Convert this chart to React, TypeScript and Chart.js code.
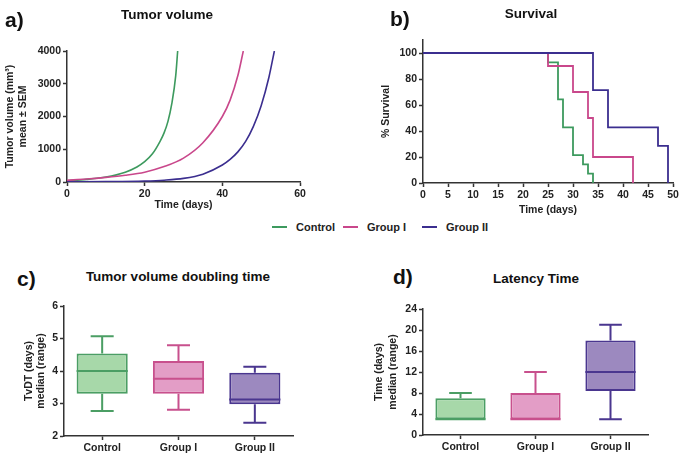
import React, { useEffect, useRef } from "react";
import { Chart, registerables } from "chart.js";
Chart.register(...registerables);

const FONT = 'Arial, "Liberation Sans", sans-serif';

const GROUPS = ["Control", "Group I", "Group II"];
const LINE_COLORS = ["#3d9a5e", "#c9478b", "#3b2e8f"];
const BOX_FILL = ["#a7d8a9", "#e39dc6", "#9c89bf"];
const BOX_BORDER = ["#4b9e64", "#c8508d", "#4a368f"];

// a) Tumor volume (days, mm3)
const volControlT = [0, 5, 10, 15, 18, 20, 22, 24, 25, 26, 27, 28, 28.5];
const volControlV = [40, 80, 150, 300, 460, 620, 860, 1250, 1500, 1850, 2400, 3250, 4000];
const volGroup1T = [0, 5, 10, 15, 20, 25, 30, 35, 40, 42, 44, 45.4];
const volGroup1V = [55, 90, 140, 205, 300, 470, 730, 1200, 2000, 2500, 3250, 4000];
const volGroup2T = [0, 10, 20, 25, 30, 35, 40, 42, 44, 46, 48, 50, 52, 53.4];
const volGroup2V = [5, 12, 30, 55, 110, 240, 520, 690, 920, 1240, 1700, 2330, 3200, 4000];

// b) Survival (Kaplan-Meier steps)
const survControlT = [0, 25, 27, 28, 30, 32, 33, 34];
const survControlY = [100, 92.86, 64.29, 42.86, 21.43, 14.29, 7.14, 0];
const survGroup1T = [0, 25, 30, 33, 34, 42];
const survGroup1Y = [100, 90, 70, 50, 20, 0];
const survGroup2T = [0, 34, 37, 47, 49];
const survGroup2Y = [100, 71.43, 42.86, 28.57, 0];

// c) Tumor volume doubling time (days)
const tvdtMin = [2.77, 2.81, 2.41];
const tvdtQ1 = [3.3, 3.3, 2.98];
const tvdtMedian = [4.0, 3.76, 3.12];
const tvdtQ3 = [4.54, 4.31, 3.95];
const tvdtMax = [5.07, 4.79, 4.13];

// d) Latency time (days)
const latMin = [3, 3, 3];
const latQ1 = [3, 3, 8.4];
const latMedian = [3, 3, 12];
const latQ3 = [7, 8, 18];
const latMax = [8, 12, 21];

const AXIS = "#333";
const tickFont = { family: FONT, size: 10.5, weight: "bold" as const };
const titleFont = { family: FONT, size: 10.5, weight: "bold" as const, lineHeight: 1.15 };

function axisBase(extra: any) {
  return {
    border: { display: true, color: AXIS, width: 1.5 },
    grid: { display: true, drawOnChartArea: false, drawTicks: true, tickLength: 4, tickColor: AXIS, tickWidth: 1.5, color: AXIS },
    ...extra,
    ticks: { color: "#222", font: tickFont, padding: 2, ...(extra.ticks || {}) },
  };
}

function pts(t: number[], v: number[]) {
  return t.map((x, i) => ({ x, y: v[i] }));
}

function boxPlugin(mins: number[], q1: number[], med: number[], q3: number[], maxs: number[]) {
  return {
    id: "boxWhiskers",
    beforeDatasetsDraw(chart: any) {
      const ctx = chart.ctx;
      const ys = chart.scales.y;
      const meta = chart.getDatasetMeta(0);
      meta.data.forEach((bar: any, i: number) => {
        const w = bar.width;
        const cap = w * 0.45;
        ctx.save();
        ctx.strokeStyle = BOX_BORDER[i];
        ctx.lineWidth = 2;
        const segs: [number, number][] = [];
        if (maxs[i] > q3[i]) segs.push([q3[i], maxs[i]]);
        if (mins[i] < q1[i]) segs.push([q1[i], mins[i]]);
        segs.forEach(([a, b]) => {
          const ya = ys.getPixelForValue(a);
          const yb = ys.getPixelForValue(b);
          ctx.beginPath();
          ctx.moveTo(bar.x, ya);
          ctx.lineTo(bar.x, yb);
          ctx.moveTo(bar.x - cap / 2, yb);
          ctx.lineTo(bar.x + cap / 2, yb);
          ctx.stroke();
        });
        ctx.restore();
      });
    },
    afterDatasetsDraw(chart: any) {
      const ctx = chart.ctx;
      const ys = chart.scales.y;
      const meta = chart.getDatasetMeta(0);
      meta.data.forEach((bar: any, i: number) => {
        const w = bar.width;
        const y = ys.getPixelForValue(med[i]);
        ctx.save();
        ctx.strokeStyle = BOX_BORDER[i];
        ctx.lineWidth = 2;
        ctx.beginPath();
        ctx.moveTo(bar.x - w / 2, y);
        ctx.lineTo(bar.x + w / 2, y);
        ctx.stroke();
        ctx.restore();
      });
    },
  };
}

function ChartBox({ left, top, width, height, make }: any) {
  const ref = useRef<HTMLCanvasElement>(null);
  useEffect(() => {
    const chart = new Chart(ref.current as HTMLCanvasElement, make());
    return () => chart.destroy();
  }, []);
  return (
    <div style={{ position: "absolute", left, top, width, height }}>
      <canvas ref={ref} width={width} height={height} style={{ width, height, display: "block" }} />
    </div>
  );
}

const commonOpts = {
  responsive: false,
  animation: false,
  plugins: { legend: { display: false }, tooltip: { enabled: false }, title: { display: false } },
};

const plain = (v: any) => String(v);

function makeVolume() {
  const series = [
    [volGroup2T, volGroup2V, 2],
    [volGroup1T, volGroup1V, 1],
    [volControlT, volControlV, 0],
  ] as any[];
  return {
    type: "line",
    data: {
      datasets: series.map(([t, v, c]) => ({
        label: GROUPS[c],
        data: pts(t, v),
        borderColor: LINE_COLORS[c],
        borderWidth: 1.6,
        pointRadius: 0,
        cubicInterpolationMode: "monotone",
        fill: false,
      })),
    },
    options: {
      ...commonOpts,
      layout: { padding: { top: 51, right: 30, left: 0, bottom: 0 } },
      scales: {
        x: axisBase({
          type: "linear",
          min: 0,
          max: 60,
          ticks: { stepSize: 20, callback: plain },
          title: { display: true, text: "Time (days)", color: "#222", font: titleFont, padding: { top: 0, bottom: 4 } },
          afterFit: (s: any) => { s.height = 33; },
        }),
        y: axisBase({
          type: "linear",
          min: 0,
          max: 4000,
          ticks: { stepSize: 1000, callback: plain },
          title: { display: true, text: ["Tumor volume (mm³)", "mean ± SEM"], color: "#222", font: titleFont, padding: { top: 4.5, bottom: 0 } },
          afterFit: (s: any) => { s.width = 67; },
        }),
      },
    },
  };
}

function makeSurvival() {
  const series = [
    [survGroup2T, survGroup2Y, 2, 0],
    [survGroup1T, survGroup1Y, 1, 1],
    [survControlT, survControlY, 0, 2],
  ] as any[];
  return {
    type: "line",
    data: {
      datasets: series.map(([t, v, c, o]) => ({
        label: GROUPS[c],
        data: pts(t, v),
        borderColor: LINE_COLORS[c],
        borderWidth: 1.8,
        pointRadius: 0,
        stepped: true,
        fill: false,
        order: o,
      })),
    },
    options: {
      ...commonOpts,
      layout: { padding: { top: 40, right: 12, left: 0, bottom: 0 } },
      scales: {
        x: axisBase({
          type: "linear",
          min: 0,
          max: 50,
          ticks: { stepSize: 5, callback: plain },
          title: { display: true, text: "Time (days)", color: "#222", font: titleFont, padding: { top: 0, bottom: 4 } },
          afterFit: (s: any) => { s.height = 37; },
        }),
        y: axisBase({
          type: "linear",
          min: 0,
          max: 110,
          ticks: { stepSize: 20, includeBounds: false, callback: plain },
          afterBuildTicks: (s: any) => { s.ticks = s.ticks.filter((t: any) => t.value <= 100); },
          title: { display: true, text: "% Survival", color: "#222", font: titleFont, padding: { top: 40, bottom: 0 } },
          afterFit: (s: any) => { s.width = 83; },
        }),
      },
    },
  };
}

function makeBox(mins: number[], q1: number[], med: number[], q3: number[], maxs: number[], opt: any) {
  return {
    type: "bar",
    data: {
      labels: GROUPS,
      datasets: [
        {
          data: q1.map((v, i) => [v, q3[i]]),
          backgroundColor: BOX_FILL,
          borderColor: BOX_BORDER,
          borderWidth: 2,
          borderSkipped: false,
          barPercentage: 0.67,
          categoryPercentage: 1,
        },
      ],
    },
    plugins: [boxPlugin(mins, q1, med, q3, maxs)],
    options: {
      ...commonOpts,
      layout: { padding: opt.padding },
      scales: {
        x: axisBase({
          type: "category",
          offset: true,
          grid: { display: true, offset: false, drawOnChartArea: false, drawTicks: true, tickLength: 4, tickColor: AXIS, tickWidth: 1.5, color: AXIS },
          ticks: { font: { family: FONT, size: 10.5, weight: "bold" }, padding: 2 },
          afterFit: (s: any) => { s.height = opt.xh; },
        }),
        y: axisBase({
          type: "linear",
          min: opt.min,
          max: opt.max,
          ticks: { stepSize: opt.step, callback: plain },
          title: { display: true, text: opt.title, color: "#222", font: { ...titleFont, lineHeight: opt.lh }, padding: { top: opt.tpad, bottom: 0 } },
          afterFit: (s: any) => { s.width = opt.yw; },
        }),
      },
    },
  };
}

const textBase: React.CSSProperties = {
  position: "absolute",
  fontFamily: FONT,
  fontWeight: "bold",
  color: "#111",
  whiteSpace: "nowrap",
  lineHeight: 1,
};

function Centered({ x, y, size, children }: any) {
  return (
    <div style={{ ...textBase, left: x, top: y, fontSize: size, transform: "translate(-50%,-50%)" }}>{children}</div>
  );
}
function Letter({ x, y, children }: any) {
  return (
    <div style={{ ...textBase, left: x, top: y, fontSize: 21, transform: "translate(0,-50%)" }}>{children}</div>
  );
}

function LegendItem({ x, text, color }: any) {
  return (
    <>
      <div style={{ position: "absolute", left: x, top: 226, width: 15, height: 2, background: color }} />
      <div style={{ ...textBase, left: x + 24, top: 227, fontSize: 11, color: "#222", transform: "translate(0,-50%)" }}>{text}</div>
    </>
  );
}

export default function App() {
  return (
    <div style={{ position: "absolute", left: 0, top: 0, width: 685, height: 460, background: "#fff", overflow: "hidden" }}>
      <ChartBox left={0} top={0} width={330} height={215} make={makeVolume} />
      <ChartBox left={340} top={0} width={345} height={220} make={makeSurvival} />
      <ChartBox
        left={0}
        top={290}
        width={310}
        height={170}
        make={() =>
          makeBox(tvdtMin, tvdtQ1, tvdtMedian, tvdtQ3, tvdtMax, {
            padding: { top: 16, right: 17, left: 0, bottom: 0 },
            xh: 24,
            yw: 64,
            min: 2,
            max: 6,
            step: 1,
            title: ["TvDT (days)", "median (range)"],
            tpad: 23,
            lh: 1.15,
          })
        }
      />
      <ChartBox
        left={340}
        top={290}
        width={345}
        height={170}
        make={() =>
          makeBox(latMin, latQ1, latMedian, latQ3, latMax, {
            padding: { top: 19, right: 37, left: 0, bottom: 0 },
            xh: 25,
            yw: 83,
            min: 0,
            max: 24,
            step: 4,
            title: ["Time (days)", "median (range)"],
            tpad: 33,
            lh: 1.25,
          })
        }
      />
      <Letter x={5} y={19}>a)</Letter>
      <Letter x={390} y={18}>b)</Letter>
      <Letter x={17} y={278}>c)</Letter>
      <Letter x={393} y={276}>d)</Letter>
      <Centered x={167} y={15} size={13.5}>Tumor volume</Centered>
      <Centered x={531} y={14} size={13.5}>Survival</Centered>
      <Centered x={178} y={277} size={13.5}>Tumor volume doubling time</Centered>
      <Centered x={536} y={279} size={13.5}>Latency Time</Centered>
      <LegendItem x={272} text="Control" color={LINE_COLORS[0]} />
      <LegendItem x={343} text="Group I" color={LINE_COLORS[1]} />
      <LegendItem x={422} text="Group II" color={LINE_COLORS[2]} />
    </div>
  );
}
